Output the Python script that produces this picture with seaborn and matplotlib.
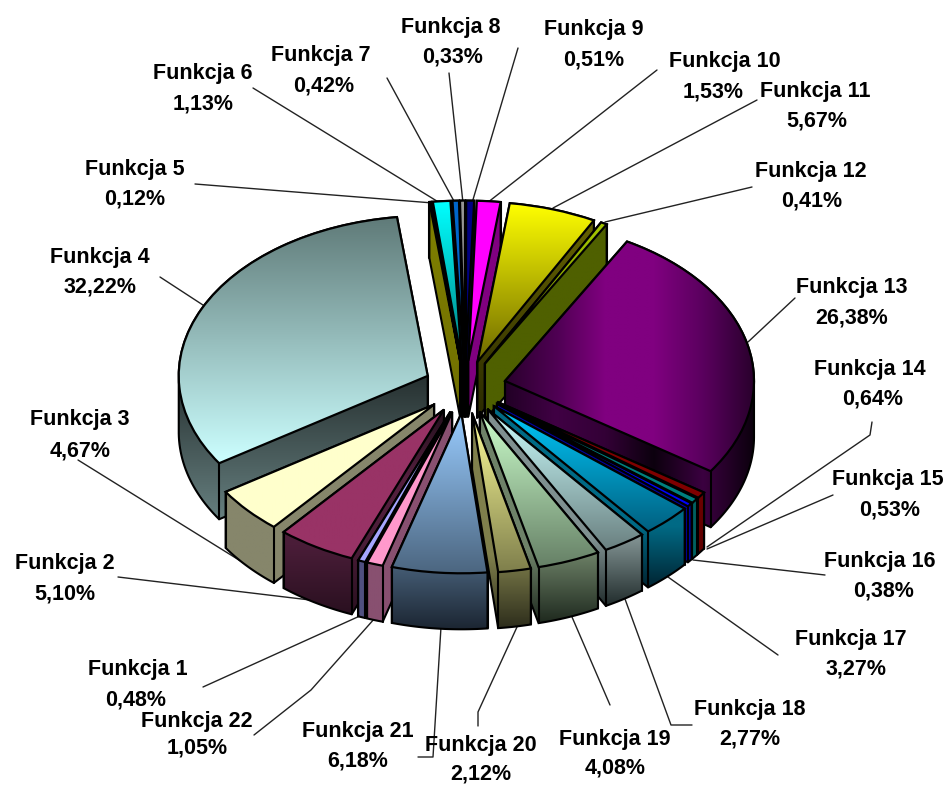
import numpy as np
import matplotlib
matplotlib.use("Agg")
import matplotlib.pyplot as plt
from matplotlib.patches import Polygon
from matplotlib.path import Path
from matplotlib.transforms import Affine2D
import seaborn as sns

# ---- data ----
names = [f"Funkcja {i}" for i in range(1, 23)]
shares = [0.48, 5.10, 4.67, 32.22, 0.12, 1.13, 0.42, 0.33, 0.51, 1.53, 5.67,
          0.41, 26.38, 0.64, 0.53, 0.38, 3.27, 2.77, 4.08, 2.12, 6.18, 1.05]
share_labels = [f"{v:.2f}%".replace(".", ",") for v in shares]

# ---- styles ----
top_colors = [
    ["#a6a6ff"], ["#993366"], ["#ffffcc"], ["#5f7a78", "#ccffff"], ["#808000"],
    ["#00ffff", "#007f80"], ["#0066cc"], ["#969696"], ["#000080"], ["#ff00ff"],
    ["#ffff00", "#6f6a00"], ["#a5c800", "#6f7a00"],
    ["#2a002d", "#4e0052", "#800080", "#800080", "#5a005e", "#2a002d"],
    ["#800000"], ["#008080"], ["#0000ff"],
    ["#00ccff", "#006080"], ["#ccffff", "#6a8080"], ["#ccffcc", "#668066"],
    ["#ffff99", "#7f7f4c"], ["#99ccff", "#4c6680"], ["#ff99cc"],
]
wall_colors = [
    ["#505080"], ["#22101c", "#55203f", "#4a1d38", "#2a1020"], ["#86866b"],
    ["#000000", "#222b2b", "#667f7f"], ["#808000", "#706f00"],
    ["#007f80"], ["#003366"], ["#4b4b4b"], ["#000040"], ["#800080"],
    ["#6a6600", "#2a2a00"], ["#4f6000"],
    ["#220026", "#400044", "#330036", "#0c000e", "#3b0040", "#0c000e"],
    ["#800000", "#600000"], ["#006060"], ["#0000a0"],
    ["#006a85", "#006a85", "#006a85", "#002533"],
    ["#7f9090", "#7f9090", "#7f9090", "#222d2d"],
    ["#6e8268", "#6e8268", "#6e8268", "#1f2a1f"],
    ["#7f7f4c", "#7f7f4c", "#7f7f4c", "#2e2e1c"],
    ["#4c6680", "#4c6680", "#4c6680", "#1c2633"],
    ["#885070"],
]
horizontal = {12}
explode_amount = 0.165
start_angle = 250.0
W, H = 950, 785
cx, cy, rx, ry, depth_px = 465, 387, 249, 160, 56
depth = depth_px / ry

# text centres in pixels: (x, y of first line, x, y of second line)
label_pos = [
    (138, 670, 136, 700), (65, 564, 65, 594), (80, 420, 80, 451), (100, 258, 100, 287),
    (135, 169, 135, 199), (203, 73, 203, 104), (321, 56, 324, 86), (451, 28, 453, 57),
    (594, 29, 594, 60), (725, 61, 713, 92), (815, 91, 817, 121), (811, 171, 812, 201),
    (852, 288, 852, 318), (870, 369, 873, 399), (888, 480, 890, 510), (880, 561, 884, 591),
    (851, 639, 856, 669), (750, 709, 750, 739), (615, 739, 615, 768), (481, 746, 481, 774),
    (358, 731, 358, 761), (197, 722, 197, 748),
]
# leader lines in pixels
leaders = [
    [(203, 687), (362, 615)], [(118, 577), (310, 600)], [(78, 460), (247, 565)],
    [(160, 277), (206, 307)], [(195, 184), (433, 203)], [(253, 88), (440, 203)],
    [(387, 78), (455, 203)], [(449, 73), (463, 203)], [(518, 48), (472, 203)],
    [(657, 70), (487, 203)], [(757, 100), (553, 208)], [(752, 187), (605, 222)],
    [(795, 298), (748, 342)], [(872, 422), (870, 435), (707, 547)], [(833, 495), (707, 549)],
    [(825, 575), (693, 560)], [(778, 655), (668, 577)], [(692, 725), (671, 725), (625, 599)],
    [(610, 705), (572, 617)], [(478, 726), (478, 712), (517, 627)],
    [(418, 757), (433, 757), (441, 627)], [(254, 735), (311, 690), (375, 618)],
]


def hull(points):
    pts = sorted(set(map(tuple, np.round(points, 6))))
    def half(seq):
        out = []
        for p in seq:
            while len(out) > 1 and ((out[-1][0] - out[-2][0]) * (p[1] - out[-2][1])
                                    - (out[-1][1] - out[-2][1]) * (p[0] - out[-2][0])) <= 0:
                out.pop()
            out.append(p)
        return out[:-1]
    return np.array(half(pts) + half(pts[::-1]))


def gradient(stops, is_horizontal):
    if len(stops) == 1:
        stops = stops * 2
    cols = np.array(sns.blend_palette(stops, 128))[:, :3]
    return cols[None, :, :] if is_horizontal else cols[:, None, :]


def paint(ax, stops, is_horizontal, pts, clip, z):
    x0, y0 = pts.min(axis=0)
    x1, y1 = pts.max(axis=0)
    im = ax.imshow(gradient(stops, is_horizontal), extent=(x0, x1, y0, y1), origin="upper",
                   aspect="auto", interpolation="bilinear", zorder=z)
    im.set_clip_path(clip)


sns.set_theme(style="white")
plt.rcParams["font.family"] = ["Liberation Sans", "DejaVu Sans"]
fig = plt.figure(figsize=(W / 100, H / 100), dpi=100)
ax = fig.add_axes([0, 0, 1, 1])

wedges, _ = ax.pie(shares, explode=[explode_amount] * len(shares), startangle=start_angle,
                   counterclock=False, radius=1, center=(0, 0),
                   colors=sns.color_palette([c[0] for c in top_colors]))

mids = [np.sin(np.radians((w.theta1 + w.theta2) / 2)) for w in wedges]
order = np.argsort(-np.array(mids))
for rank, i in enumerate(order):
    w = wedges[i]
    z = 3 + rank
    c = np.array(w.center)
    th = np.radians(np.linspace(w.theta1, w.theta2, 90))
    arc = c + w.r * np.column_stack([np.cos(th), np.sin(th)])
    face = np.vstack([c, arc])
    down = np.array([0, -depth])
    body = hull(np.vstack([face, face + down]))

    outline = Polygon(body, closed=True, facecolor="none", edgecolor="black", lw=1.5, zorder=z + 0.1)
    ax.add_patch(outline)
    paint(ax, wall_colors[i], i in horizontal, body, outline, z)

    face_path = Path(np.vstack([face, face[0]]))
    for corner in (c, arc[0], arc[-1]):
        probe = corner + np.array([0, -0.02])
        if not face_path.contains_point(probe):
            seg = np.vstack([corner, corner + down])
            ax.plot(seg[:, 0], seg[:, 1], color="black", lw=1.5, zorder=z + 0.12,
                    solid_capstyle="round")

    w.set_facecolor("none")
    w.set_edgecolor("black")
    w.set_linewidth(1.6)
    w.set_zorder(z + 0.3)
    paint(ax, top_colors[i], i in horizontal, face, w, z + 0.2)

ax.set_xlim(-cx / rx, (W - cx) / rx)
ax.set_ylim((cy - H) / ry, cy / ry)
ax.set_aspect("auto")
ax.axis("off")

px = Affine2D().scale(1 / W, -1 / H).translate(0, 1) + fig.transFigure
for name, lab, pos, line in zip(names, share_labels, label_pos, leaders):
    xs, ys = zip(*line)
    ax.plot(xs, ys, color="#222222", lw=1.0, transform=px, zorder=1, clip_on=False)
    for txt, x, y in ((name, pos[0], pos[1]), (lab, pos[2], pos[3])):
        ax.text(x, y, txt, transform=px, ha="center", va="center", fontsize=15.5,
                fontweight="bold", color="black", zorder=101)

fig.savefig("out.png", dpi=100, facecolor="white")
